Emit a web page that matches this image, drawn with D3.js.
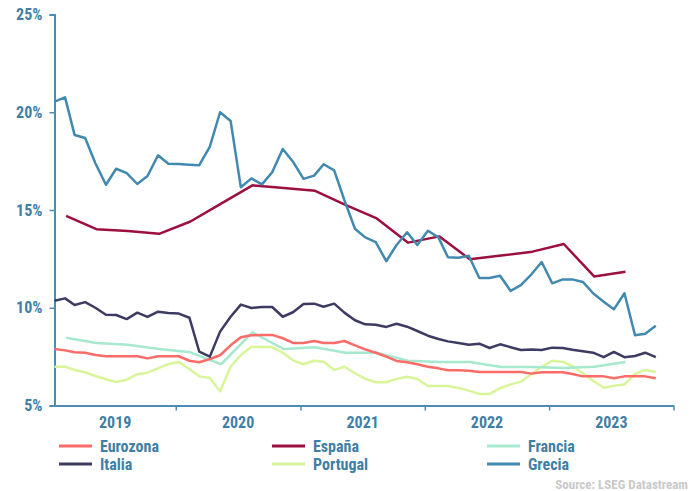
<!DOCTYPE html>
<html>
<head>
<meta charset="utf-8">
<script src="https://cdn.jsdelivr.net/npm/d3@7"></script>
<style>
  html, body { margin: 0; padding: 0; background: #ffffff; }
  svg { display: block; }
  text { font-family: "Liberation Sans Narrow", "Roboto Condensed", "Roboto", sans-serif; font-weight: bold; }
</style>
</head>
<body>
<svg id="chart" width="692" height="491"></svg>
<script>
// ---------- data ----------
const years = ["2019", "2020", "2021", "2022", "2023"];
const yTicks = [5, 10, 15, 20, 25];

// monthly series, Jan 2019 .. Nov 2023
const eurozona = [7.89,7.82,7.72,7.70,7.58,7.52,7.52,7.52,7.52,7.41,7.52,7.52,
  7.52,7.29,7.21,7.38,7.57,8.08,8.49,8.59,8.61,8.61,8.44,8.20,
  8.20,8.30,8.20,8.20,8.30,8.08,7.87,7.70,7.50,7.28,7.21,7.11,
  6.98,6.90,6.80,6.80,6.78,6.71,6.71,6.71,6.71,6.71,6.63,6.70,
  6.70,6.70,6.61,6.49,6.49,6.49,6.39,6.49,6.49,6.49,6.39];
const italia = [10.36,10.48,10.14,10.29,10.00,9.64,9.63,9.42,9.75,9.53,9.80,9.73,
  9.70,9.49,7.75,7.50,8.78,9.54,10.16,9.99,10.04,10.04,9.54,9.77,
  10.19,10.21,10.05,10.21,9.75,9.36,9.15,9.13,9.02,9.18,9.03,8.81,
  8.57,8.40,8.28,8.20,8.11,8.16,7.94,8.13,7.98,7.84,7.87,7.84,
  7.96,7.94,7.85,7.77,7.70,7.47,7.74,7.47,7.53,7.70,7.47];
const portugal = [6.98,6.98,6.82,6.70,6.51,6.34,6.20,6.32,6.60,6.68,6.90,7.12,
  7.23,6.87,6.49,6.41,5.73,6.98,7.58,8.01,7.99,7.99,7.70,7.31,
  7.11,7.29,7.24,6.82,6.98,6.65,6.37,6.19,6.19,6.36,6.47,6.36,
  6.00,6.00,6.00,5.90,5.76,5.59,5.59,5.88,6.08,6.22,6.61,6.98,
  7.29,7.23,7.02,6.65,6.27,5.91,6.01,6.08,6.61,6.82,6.71];
const grecia = [20.54,20.76,18.84,18.68,17.39,16.29,17.11,16.89,16.33,16.74,17.80,17.37,
  17.35,17.32,17.29,18.24,20.00,19.55,16.16,16.62,16.31,16.93,18.12,17.47,
  16.59,16.76,17.34,17.03,15.50,14.04,13.60,13.36,12.38,13.21,13.86,13.21,
  13.94,13.60,12.58,12.56,12.66,11.52,11.52,11.64,10.86,11.16,11.71,12.34,
  11.25,11.45,11.45,11.32,10.74,10.31,9.92,10.74,8.59,8.67,9.08];

// quarterly series, Q1 2019 .. Q3 2023
const espana = [14.70,14.02,13.92,13.78,14.41,15.33,16.26,16.13,15.98,15.26,14.57,13.33,
  13.65,12.48,12.67,12.87,13.26,11.60,11.84];
const francia = [8.47,8.20,8.11,7.89,7.72,7.11,8.74,7.89,7.98,7.70,7.70,7.29,
  7.23,7.23,6.97,6.97,6.92,6.98,7.23];

const seriesNames = ["Eurozona", "España", "Francia", "Italia", "Portugal", "Grecia"];
const seriesColors = ["#fb6b68", "#9c0f40", "#a6e9cf", "#3e3b62", "#d8f59a", "#4289b0"];

// ---------- helpers ----------
const monthly = v => v.map((d, i) => ({ date: new Date(2019, i, 10), value: d }));
const quarterly = v => v.map((d, i) => ({ date: new Date(2019, 1 + 3 * i, 13), value: d }));

const series = [
  { name: "Eurozona", data: monthly(eurozona) },
  { name: "España", data: quarterly(espana) },
  { name: "Francia", data: quarterly(francia) },
  { name: "Italia", data: monthly(italia) },
  { name: "Portugal", data: monthly(portugal) },
  { name: "Grecia", data: monthly(grecia) }
];
const drawOrder = ["Portugal", "Francia", "Eurozona", "Italia", "España", "Grecia"];

const svg = d3.select("#chart");
const axisColor = "#4a8cb3";
const labelColor = "#3f7fa6";

const x = d3.scaleTime()
  .domain([new Date(2019, 0, 10), new Date(2024, 0, 1)])
  .range([54.5, 673.5]);
const y = d3.scaleLinear().domain([5, 25]).range([405.5, 14.5]);

// ---------- y axis ----------
const yAxis = d3.axisLeft(y).tickValues(yTicks).tickFormat(d => d + "%").tickSize(5).tickPadding(7);
const gy = svg.append("g").attr("transform", `translate(${x.range()[0]},0)`).call(yAxis);
gy.select(".domain").attr("stroke", axisColor).attr("stroke-width", 2);
gy.selectAll(".tick line").attr("stroke", axisColor).attr("stroke-width", 1.5);
gy.selectAll(".tick text").attr("fill", labelColor).style("font-size", "16px");

// ---------- x axis ----------
const yearStarts = d3.range(2020, 2025).map(yy => new Date(yy, 0, 1));
const xAxis = d3.axisBottom(x).tickValues(yearStarts).tickFormat("").tickSize(5).tickSizeOuter(0);
const gx = svg.append("g").attr("transform", `translate(0,${y.range()[0]})`).call(xAxis);
gx.select(".domain").attr("stroke", axisColor).attr("stroke-width", 2);
gx.selectAll(".tick line").attr("stroke", axisColor).attr("stroke-width", 1.5);

// year labels centred in each year
years.forEach(yr => {
  const a = Math.max(x(new Date(+yr, 0, 1)), x.range()[0]);
  const b = x(new Date(+yr + 1, 0, 1));
  svg.append("text")
    .attr("x", (a + b) / 2).attr("y", 428)
    .attr("text-anchor", "middle")
    .attr("fill", labelColor)
    .style("font-size", "16px")
    .text(yr);
});

// ---------- lines ----------
const line = d3.line().x(d => x(d.date)).y(d => y(d.value));
drawOrder.forEach(name => {
  const s = series.find(s => s.name === name);
  svg.append("path")
    .datum(s.data)
    .attr("fill", "none")
    .attr("stroke", seriesColors[seriesNames.indexOf(name)])
    .attr("stroke-width", 2.5)
    .attr("stroke-linejoin", "round")
    .attr("d", line);
});

// ---------- legend ----------
const legX = [59, 272, 487];
const legY = [446, 464];
seriesNames.forEach((n, i) => {
  const col = i % 3, row = Math.floor(i / 3);
  const g = svg.append("g").attr("transform", `translate(${legX[col]},${legY[row]})`);
  g.append("line").attr("x1", 0).attr("x2", 33).attr("y1", 0).attr("y2", 0)
    .attr("stroke", seriesColors[i]).attr("stroke-width", 3);
  g.append("text").attr("x", 41).attr("y", 6)
    .attr("fill", labelColor).style("font-size", "16px").text(n);
});

// ---------- source ----------
svg.append("text")
  .attr("x", 688).attr("y", 489)
  .attr("text-anchor", "end")
  .attr("fill", "#c9c9c9")
  .style("font-size", "13px")
  .text("Source: LSEG Datastream");
</script>
</body>
</html>
